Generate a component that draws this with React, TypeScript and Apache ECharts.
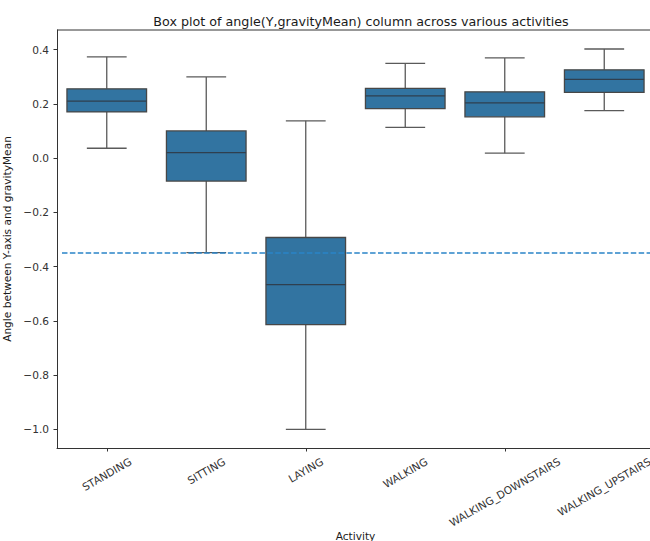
import React, { useEffect, useRef } from "react";
import * as echarts from "echarts";

const categories = ["STANDING", "SITTING", "LAYING", "WALKING", "WALKING_DOWNSTAIRS", "WALKING_UPSTAIRS"];
const whiskerLow = [0.036, -0.349, -1.0, 0.113, 0.018, 0.175];
const q1 = [0.17, -0.085, -0.614, 0.182, 0.152, 0.242];
const medians = [0.21, 0.02, -0.467, 0.229, 0.203, 0.29];
const q3 = [0.255, 0.1, -0.293, 0.257, 0.244, 0.325];
const whiskerHigh = [0.373, 0.299, 0.137, 0.349, 0.369, 0.402];
const thresholdValue = -0.35;
const thresholdStartX = -0.45;
const yTicks = [-1.0, -0.8, -0.6, -0.4, -0.2, 0.0, 0.2, 0.4];
const yMin = -1.069;
const yMax = 0.472;

const FONT = "DejaVu Sans";
const TICK_SIZE = 10.6;

function fmt(v: number) {
  const s = Math.abs(v).toFixed(1);
  return v < -1e-9 ? "\u2212" + s : s;
}

export default function App() {
  const ref = useRef<HTMLDivElement>(null);
  useEffect(() => {
    if (!ref.current) return;
    const chart = echarts.init(ref.current, null, { renderer: "svg" });
    const boxData = categories.map((c, i) => [i, whiskerLow[i], q1[i], medians[i], q3[i], whiskerHigh[i]]);
    const option: any = {
      animation: false,
      backgroundColor: "#ffffff",
      title: {
        text: "Box plot of angle(Y,gravityMean) column across various activities",
        left: 356,
        top: 10,
        textAlign: "center",
        textStyle: { fontFamily: FONT, fontSize: 12.7, fontWeight: "normal", color: "#1a1a1a" },
      },
      grid: { left: 57, width: 597, top: 30, height: 418, containLabel: false, outerBoundsMode: "none" },
      xAxis: [
        {
          type: "category",
          data: categories,
          boundaryGap: true,
          axisLine: { show: true, onZero: false, lineStyle: { color: "#333", width: 1 } },
          axisTick: { show: true, alignWithLabel: true, length: 3.5, lineStyle: { color: "#333" } },
          axisLabel: { show: false },
          splitLine: { show: false },
          name: "Activity",
          nameLocation: "middle",
          nameGap: 82,
          nameTextStyle: { fontFamily: FONT, fontSize: TICK_SIZE, color: "#1a1a1a", verticalAlign: "top" },
        },
        { type: "value", min: -0.5, max: 5.5, show: false, axisLine: { onZero: false } },
      ],
      yAxis: {
        type: "value",
        min: yMin,
        max: yMax,
        axisLine: { show: true, onZero: false, lineStyle: { color: "#333", width: 1 } },
        axisTick: { show: true, length: 3.5, customValues: yTicks, lineStyle: { color: "#333" } },
        axisLabel: { customValues: yTicks, formatter: (v: number) => fmt(v), fontFamily: FONT, fontSize: TICK_SIZE, color: "#333", margin: 8 },
        splitLine: { show: false },
        name: "Angle between Y-axis and gravityMean",
        nameLocation: "middle",
        nameRotate: 90,
        nameGap: 33,
        nameTextStyle: { fontFamily: FONT, fontSize: TICK_SIZE, color: "#1a1a1a" },
      },
      series: [
        {
          type: "custom",
          xAxisIndex: 0,
          data: boxData,
          encode: { x: 0, y: [1, 2, 3, 4, 5] },
          renderItem: (params: any, api: any) => {
            const i = api.value(0);
            const band = api.size([1, 0])[0];
            const pLo = api.coord([i, api.value(1)]);
            const pQ1 = api.coord([i, api.value(2)]);
            const pMed = api.coord([i, api.value(3)]);
            const pQ3 = api.coord([i, api.value(4)]);
            const pHi = api.coord([i, api.value(5)]);
            const cx = pMed[0];
            const bw = band * 0.4;
            const cw = band * 0.2;
            const ls = { stroke: "#5a5a5a", lineWidth: 1.3 };
            return {
              type: "group",
              children: [
                { type: "line", shape: { x1: cx, y1: pQ1[1], x2: cx, y2: pLo[1] }, style: ls },
                { type: "line", shape: { x1: cx, y1: pQ3[1], x2: cx, y2: pHi[1] }, style: ls },
                { type: "line", shape: { x1: cx - cw, y1: pLo[1], x2: cx + cw, y2: pLo[1] }, style: ls },
                { type: "line", shape: { x1: cx - cw, y1: pHi[1], x2: cx + cw, y2: pHi[1] }, style: ls },
                { type: "rect", shape: { x: cx - bw, y: pQ3[1], width: bw * 2, height: pQ1[1] - pQ3[1] }, style: { fill: "#3274a1", stroke: "#474747", lineWidth: 1.3 } },
                { type: "line", shape: { x1: cx - bw, y1: pMed[1], x2: cx + bw, y2: pMed[1] }, style: { stroke: "#2f3f4f", lineWidth: 1.3 } },
              ],
            };
          },
          z: 2,
        },
        {
          type: "line",
          xAxisIndex: 1,
          data: [[thresholdStartX, thresholdValue], [5.5, thresholdValue]],
          showSymbol: false,
          symbol: "none",
          lineStyle: { color: "#2a84c8", width: 1.5, type: [5.5, 2.4] },
          z: 3,
          silent: true,
        },
      ],
    };
    chart.setOption(option);

    // x tick labels rotated 30deg, centred on their ticks (matplotlib style)
    const canvas = document.createElement("canvas");
    const ctx = canvas.getContext("2d")!;
    ctx.font = `${TICK_SIZE}px "${FONT}"`;
    const axisY = chart.convertToPixel({ yAxisIndex: 0 }, yMin) as number;
    const ang = Math.PI / 6;
    const h = TICK_SIZE * 1.17;
    const labels = categories.map((c) => {
      const x = chart.convertToPixel({ xAxisIndex: 0 }, c) as number;
      const w = ctx.measureText(c).width;
      const bh = w * Math.sin(ang) + h * Math.cos(ang);
      return {
        type: "text", x, y: axisY + 7 + bh / 2, rotation: ang,
        style: { text: c, x: 0, y: 0, align: "center", verticalAlign: "middle", fontFamily: FONT, fontSize: TICK_SIZE, fill: "#333" },
      };
    });
    chart.setOption({
      graphic: [
        ...labels,
        { type: "line", shape: { x1: 57, y1: 30, x2: 650, y2: 30 }, style: { stroke: "#333", lineWidth: 1 } },
      ],
    });
    return () => chart.dispose();
  }, []);
  return (
    <div style={{ position: "fixed", left: 0, top: 0, width: 650, height: 541, overflow: "hidden", background: "#fff" }}>
      <div ref={ref} style={{ width: 650, height: 541 }} />
    </div>
  );
}
